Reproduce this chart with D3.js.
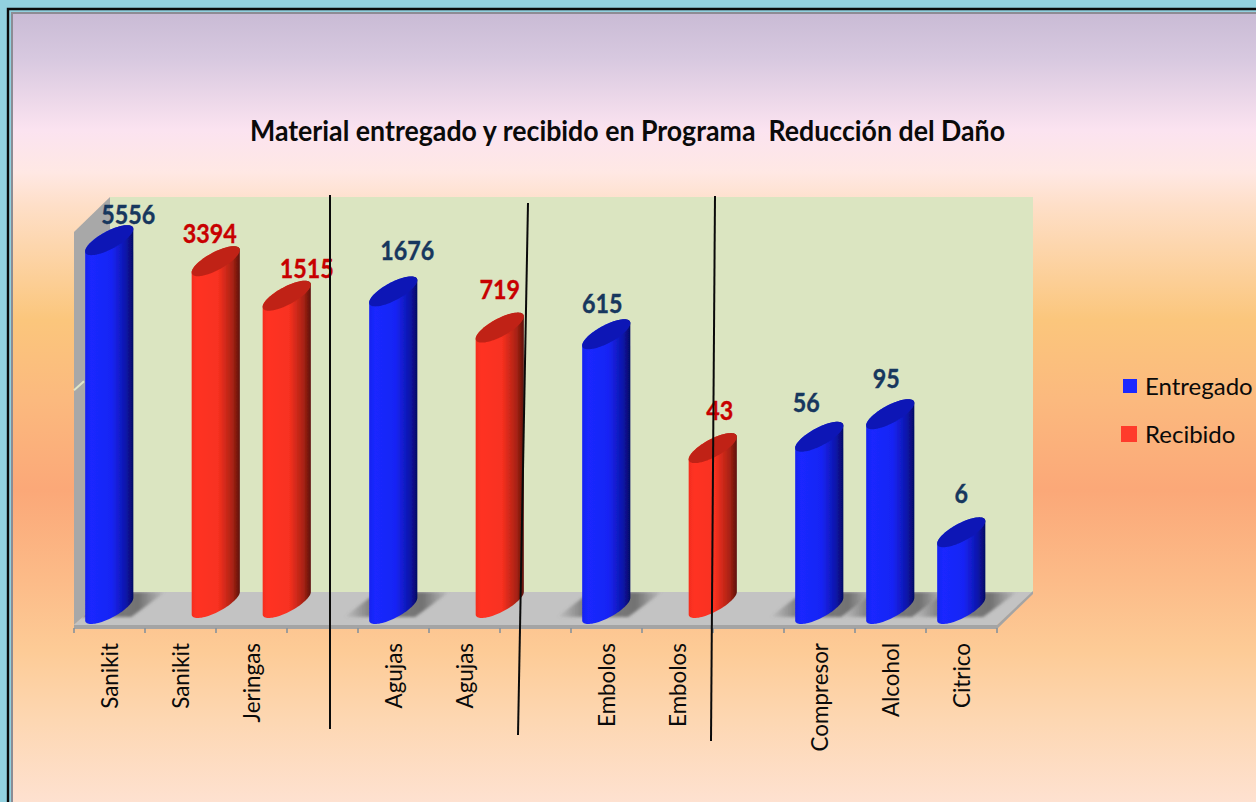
<!DOCTYPE html>
<html lang="es">
<head>
<meta charset="utf-8">
<script src="https://d3js.org/d3.v7.min.js"></script>
<style>
html,body{margin:0;padding:0;background:#92d1df;overflow:hidden}
svg{display:block}
text{font-family:Lato,"Open Sans",sans-serif}
</style>
</head>
<body>
<svg id="chart" width="1256" height="802"></svg>
<script>
// ---- data ----
const titleText = "Material entregado y recibido en Programa  Reducción del Daño";
const categories = ["Sanikit","Sanikit","Jeringas","","Agujas","Agujas","","Embolos","Embolos","","Compresor","Alcohol","Citrico"];
const entregado = [5556,null,null,null,1676,null,null,615,null,null,56,95,6];
const recibido  = [null,3394,1515,null,null,719,null,null,43,null,null,null,null];
const seriesNames = ["Entregado","Recibido"];

// ---- layout & style (not data) ----
const W = 1256, H = 802;
const plot = {left:74, right:997, floorFront:625, floorBack:592, top:197, depthX:36};
const cyl = {a:16, b:18, c:15};
const baseLift = {Entregado:0, Recibido:6};
const palette = {
  Entregado:{cap:"#0c19b6", stops:["#1422f0","#1a28ff","#1724f4","#0d15a8","#040a62"], label:"#17375e", key:"#1a28ff"},
  Recibido:{cap:"#c02418", stops:["#f52c1e","#ff3322","#f83020","#a82214","#5c1208"], label:"#c80000", key:"#ff3b2b"}
};
// hand placed data-label offsets in the source: [dx, dy] from the top of each cylinder
const nudgeEntregado = {0:[19,-1],4:[14,-16],7:[-4,-6],10:[-13,-10],11:[-4,-11],12:[0,-14]};
const nudgeRecibido  = {1:[-6,-3],2:[20,-3],5:[0,-14],8:[7,-13]};
const dividers = [[330,195,330,729],[528,203,518,735],[715,196,711,741]];

const svg = d3.select("#chart");
const defs = svg.append("defs");

// ---- background ----
const bgStops = [[13,"#c9bbd5"],[60,"#d8c9e0"],[130,"#fbe3f0"],[172,"#ffe8e4"],[205,"#fedfc8"],[320,"#fbc67c"],[400,"#fbb97e"],[490,"#fba878"],[580,"#fcbb88"],[650,"#fdcb96"],[720,"#fdd7b2"],[802,"#fee1d0"]];
const bg = defs.append("linearGradient").attr("id","bg").attr("gradientUnits","userSpaceOnUse")
  .attr("x1",0).attr("x2",0).attr("y1",13).attr("y2",802);
bg.selectAll("stop").data(bgStops).join("stop")
  .attr("offset",d=>(d[0]-13)/(802-13)).attr("stop-color",d=>d[1]);
svg.append("path").attr("d",`M8,${H} V9 H${W}`).attr("fill","none").attr("stroke","#0a0a0a").attr("stroke-width",2.4);
svg.append("rect").attr("x",12).attr("y",13).attr("width",W-12).attr("height",H-13).attr("fill","url(#bg)");
svg.append("path").attr("d",`M12,${H} V13 H${W}`).attr("fill","none").attr("stroke","#8c8c94").attr("stroke-width",2);

// ---- scales ----
const x = d3.scaleBand().domain(d3.range(categories.length)).range([plot.left,plot.right]);
const xSeries = d3.scaleBand().domain(seriesNames).range([0,x.bandwidth()]);
const midFloor = (plot.floorFront+plot.floorBack)/2;
const y = d3.scaleLog().domain([1,10000]).range([midFloor+0.5, plot.top+18]);
const dy = (plot.floorFront-plot.floorBack)/2, dx = plot.depthX/2-0.5;
const back = plot.depthX;

// ---- 3-D frame ----
const g = svg.append("g");
const wallTop = plot.top;
g.append("rect").attr("x",plot.left+back).attr("y",wallTop).attr("width",plot.right-plot.left)
  .attr("height",plot.floorBack-wallTop+1).attr("fill","#dbe5c1");
const poly = pts => "M"+pts.map(p=>p.join(",")).join("L")+"Z";
g.append("path").attr("d",poly([[plot.left,wallTop+35],[plot.left+back,wallTop],[plot.left+back,plot.floorBack],[plot.left,plot.floorFront]]))
  .attr("fill","#a8a8a8");
const notchV = 250;
g.append("line").attr("x1",plot.left).attr("x2",plot.left+10)
  .attr("y1",y(notchV)+dy+1).attr("y2",y(notchV)+dy-8).attr("stroke","#dfe6c8").attr("stroke-width",2);
const floorPts = [[plot.left,plot.floorFront],[plot.left+back,plot.floorBack],[plot.right+back,plot.floorBack],[plot.right,plot.floorFront]];
g.append("path").attr("d",poly(floorPts)).attr("fill","#c3c3c3");
g.append("path").attr("d",poly([[plot.left,plot.floorFront],[plot.right,plot.floorFront],[plot.right+back,plot.floorBack-1],[plot.right+back,plot.floorBack+2],[plot.right,plot.floorFront+4],[plot.left,plot.floorFront+4]]))
  .attr("fill","#a4a4a4");

// ---- ticks and labels ----
const tickPos = d3.range(categories.length+1).map(i=>i<categories.length?x(i):plot.right);
g.selectAll(".tk").data(tickPos).join("line").attr("class","tk")
  .attr("x1",d=>d).attr("x2",d=>d).attr("y1",plot.floorFront+3).attr("y2",plot.floorFront+8)
  .attr("stroke","#87929b").attr("stroke-width",1.6);
const axisG = g.append("g").attr("transform",`translate(0,${plot.floorFront})`)
  .call(d3.axisBottom(x).tickSize(0).tickFormat(i=>categories[i]));
axisG.select(".domain").remove();
axisG.selectAll("text")
  .attr("transform","translate(0,18) rotate(-90)")
  .attr("x",0).attr("y",0).attr("dy","0.36em")
  .attr("text-anchor","end")
  .attr("font-family","Lato,'Open Sans',sans-serif")
  .attr("font-size",22.4).attr("fill","#0a0a0a");

// ---- floor shadows ----
const sh = defs.append("linearGradient").attr("id","shadow");
sh.selectAll("stop").data([[0,0],[0.25,0.65],[0.75,0.78],[1,0.04]]).join("stop")
  .attr("offset",d=>d[0]).attr("stop-color","#5c5c5c").attr("stop-opacity",d=>d[1]);
defs.append("clipPath").attr("id","floorClip").append("path").attr("d",poly(floorPts));
defs.append("filter").attr("id","soft").append("feGaussianBlur").attr("stdDeviation",1.6);
defs.append("filter").attr("id","edge").append("feGaussianBlur").attr("stdDeviation",0.45);

// ---- cylinders ----
seriesNames.forEach(name=>{
  const p = palette[name];
  const gr = defs.append("linearGradient").attr("id","grad"+name);
  gr.selectAll("stop").data(p.stops).join("stop")
    .attr("offset",(d,i)=>[0,0.12,0.55,0.85,1][i]).attr("stop-color",d=>d);
});

const r = Math.hypot(cyl.a,cyl.b);
const tL = Math.atan2(cyl.b,cyl.a);
const capPoint = (cx,cy,t)=>[cx+cyl.a*Math.cos(t)+cyl.b*Math.sin(t), cy-cyl.c*Math.sin(t)];
const line = d3.line();
function bodyPath(cx,yTop,yBase){
  const top = d3.range(0,41).map(i=>capPoint(cx,yTop,tL+Math.PI - Math.PI*i/40));   // back arc, left to right
  const bot = d3.range(0,41).map(i=>capPoint(cx,yBase,tL - Math.PI*i/40));          // front arc, right to left
  return line(top.concat(bot))+"Z";
}
function capPath(cx,yc){
  return line(d3.range(0,73).map(i=>capPoint(cx,yc,i/72*2*Math.PI)))+"Z";
}

const rows = [];
categories.forEach((c,i)=>{
  if(entregado[i]!=null) rows.push({i,name:"Entregado",v:entregado[i],n:nudgeEntregado[i]});
  if(recibido[i]!=null) rows.push({i,name:"Recibido",v:recibido[i],n:nudgeRecibido[i]});
});
const cxOf = d=>x(d.i)+xSeries(d.name)+xSeries.bandwidth()/2+dx;

const shadowG = g.append("g").attr("clip-path","url(#floorClip)");
shadowG.selectAll("path").data(rows.filter(d=>d.name==="Entregado")).join("path")
  .attr("d",d=>{
    const l = cxOf(d)-r, yF = plot.floorFront-8, yB = plot.floorBack;
    return poly([[l-25,yF],[l+8,yB],[l+80,yB],[l+46,yF]]);
  })
  .attr("fill","url(#shadow)").attr("filter","url(#soft)");

const bars = g.append("g").attr("class","bars").selectAll("g").data(rows).join("g").attr("filter","url(#edge)");
bars.append("path").attr("d",d=>bodyPath(cxOf(d),y(d.v),y(1)-baseLift[d.name]))
  .attr("fill",d=>`url(#grad${d.name})`);
bars.append("path").attr("d",d=>capPath(cxOf(d),y(d.v))).attr("fill",d=>palette[d.name].cap);

// ---- value labels ----
g.append("g").selectAll("text").data(rows).join("text")
  .attr("x",d=>cxOf(d)+d.n[0])
  .attr("y",d=>y(d.v)-cyl.c+d.n[1])
  .attr("text-anchor","middle").attr("font-size",26).attr("font-weight",700)
  .attr("fill",d=>palette[d.name].label)
  .attr("stroke",d=>palette[d.name].label).attr("stroke-width",0.35)
  .attr("textLength",d=>String(d.v).length*13.5).attr("lengthAdjust","spacingAndGlyphs")
  .text(d=>d3.format("d")(d.v));

// ---- title ----
svg.append("text").attr("x",250).attr("y",141).attr("font-size",29).attr("font-weight",700)
  .attr("fill","#0a0a0a").attr("textLength",755).attr("lengthAdjust","spacingAndGlyphs")
  .attr("xml:space","preserve").style("white-space","pre").text(titleText);

// ---- legend ----
const legend = svg.append("g");
const legendY = d3.scalePoint().domain(seriesNames).range([386,434]);
seriesNames.forEach(name=>{
  const yy = legendY(name), s = name==="Entregado"?14:16;
  legend.append("rect").attr("x",1137-s).attr("y",yy-s/2).attr("width",s).attr("height",s).attr("fill",palette[name].key);
  legend.append("text").attr("x",1145).attr("y",yy+9).attr("font-size",24).attr("fill","#0a0a0a").text(name);
});

// ---- hand-drawn dividers ----
svg.append("g").selectAll("line").data(dividers).join("line")
  .attr("x1",d=>d[0]).attr("y1",d=>d[1]).attr("x2",d=>d[2]).attr("y2",d=>d[3])
  .attr("stroke","#0a0a0a").attr("stroke-width",2);
</script>
</body>
</html>
